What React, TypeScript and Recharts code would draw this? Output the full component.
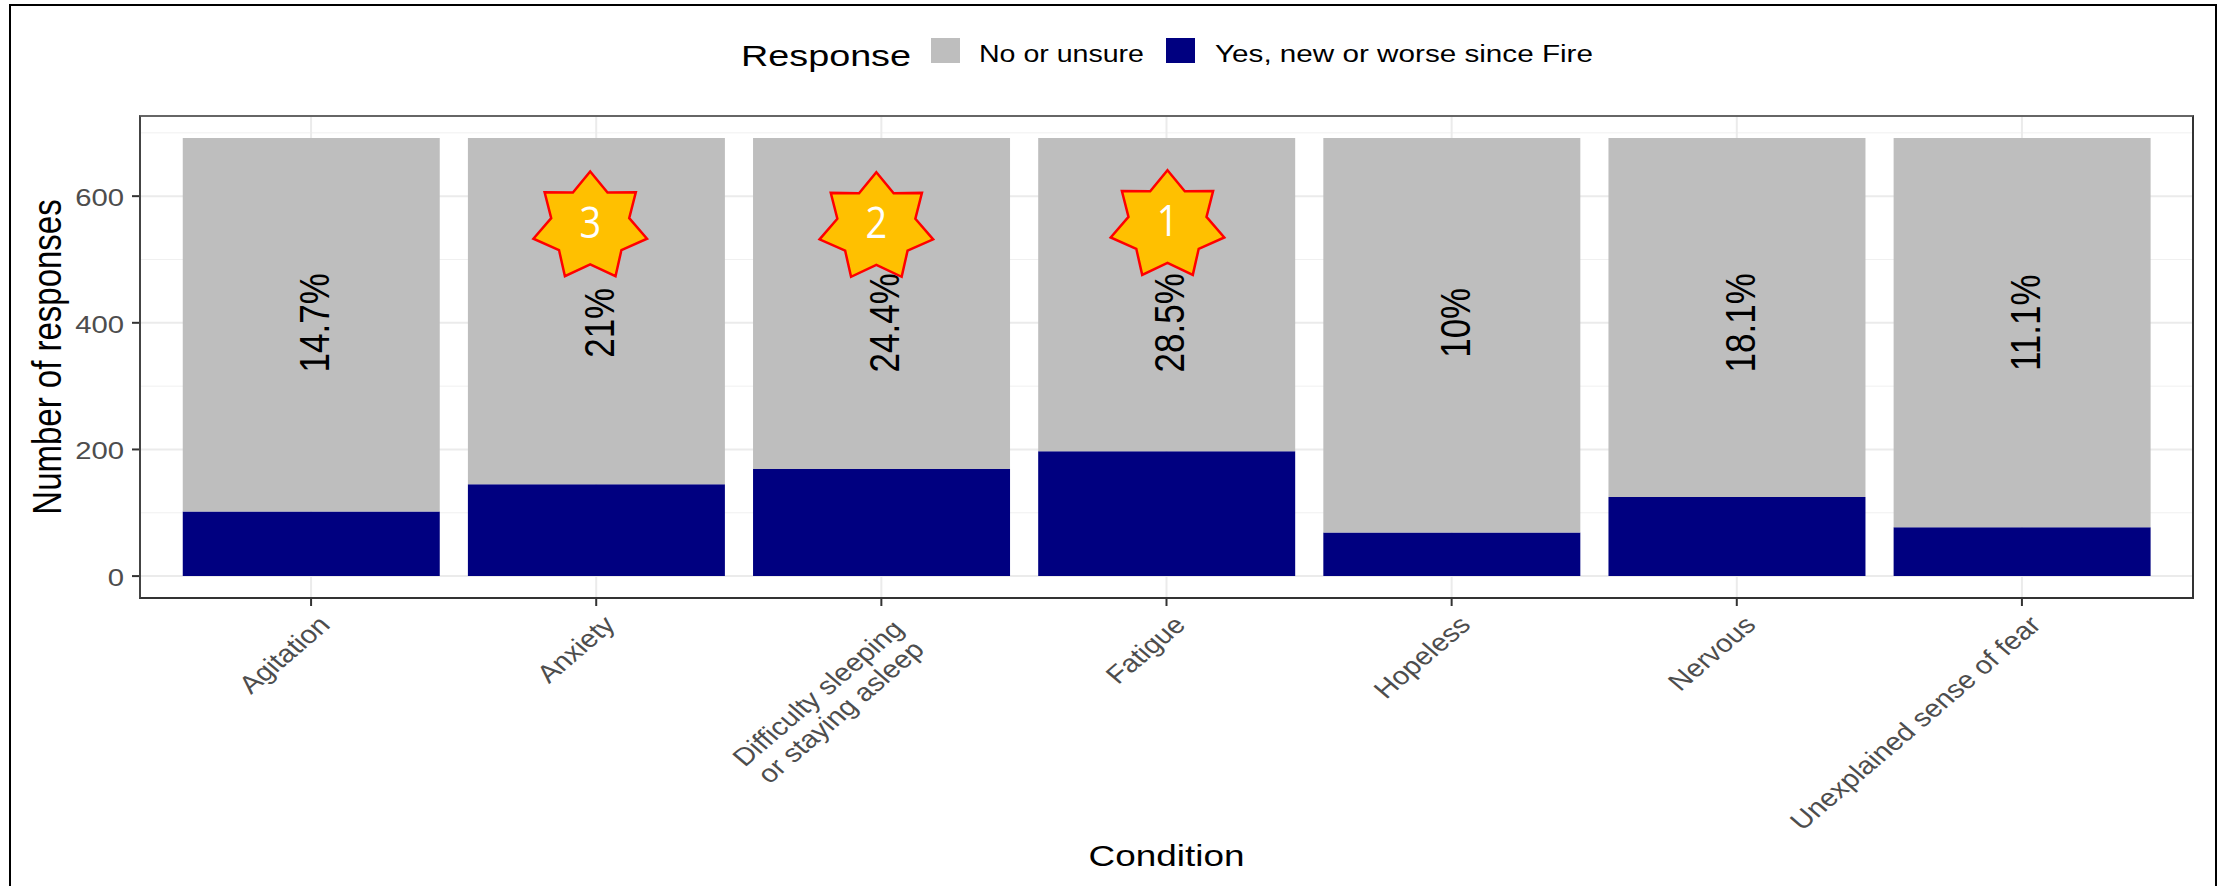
import React from 'react';
import {
  BarChart, Bar, XAxis, YAxis, CartesianGrid, Legend, ReferenceDot,
} from 'recharts';

const conditions = [
  'Agitation',
  'Anxiety',
  'Difficulty sleeping\nor staying asleep',
  'Fatigue',
  'Hopeless',
  'Nervous',
  'Unexplained sense of fear',
];
const yesCounts = [102, 145, 169, 197, 69, 125, 77];
const noCounts = [590, 547, 523, 495, 623, 567, 615];
const percentLabels = ['14.7%', '21%', '24.4%', '28.5%', '10%', '18.1%', '11.1%'];
const majorTicks = [0, 200, 400, 600];
const minorTicks = [100, 300, 500, 700];
const percentLabelY = 400;

// top three conditions, marked with a numbered star
const rankedConditions = ['Anxiety', 'Difficulty sleeping\nor staying asleep', 'Fatigue'];
const rankNumbers = ['3', '2', '1'];
const rankY = [552, 551, 554];
const rankShift = [-6, -5, 1];

const data = conditions.map((condition, i) => ({
  condition,
  yes: yesCounts[i],
  no: noCounts[i],
}));

const FONT = '"Liberation Sans", Arial, sans-serif';
const STRETCH = 1.22;
const YES_NAME = 'Yes, new or worse since Fire';
const NO_NAME = 'No or unsure';

function XTick({ x, y, payload }: any) {
  const lines = String(payload.value).split('\n');
  const multi = lines.length > 1;
  return (
    <g transform={`translate(${x + 13} ${y + 12}) scale(1.17 1) rotate(-45)`}>
      {lines.map((line, i) => (
        <text
          key={line}
          x={multi ? -1 - i * 2 : 0}
          y={i * 27 + (multi ? 14 : 9)}
          textAnchor="end"
          fontFamily={FONT}
          fontSize={25}
          fill="#4D4D4D"
        >
          {line}
        </text>
      ))}
    </g>
  );
}

function YTick({ x, y, payload }: any) {
  return (
    <text
      transform={`translate(${x - 6} ${y + 10}) scale(${STRETCH} 1)`}
      textAnchor="end"
      fontFamily={FONT}
      fontSize={24}
      fill="#4D4D4D"
    >
      {payload.value}
    </text>
  );
}

function XTitle({ viewBox }: any) {
  const cx = viewBox.x + viewBox.width / 2;
  return (
    <text
      transform={`translate(${cx} 866) scale(1.23 1)`}
      textAnchor="middle"
      fontFamily={FONT}
      fontSize={30}
      fill="#000"
    >
      Condition
    </text>
  );
}

function YTitle({ viewBox }: any) {
  const cy = viewBox.y + viewBox.height / 2;
  return (
    <text
      transform={`translate(61 ${cy}) scale(1.26 1) rotate(-90)`}
      textAnchor="middle"
      fontFamily={FONT}
      fontSize={33}
      fill="#000"
    >
      Number of responses
    </text>
  );
}

function PercentLabel({ cx, cy, text }: any) {
  return (
    <text
      transform={`translate(${cx + 2.5} ${cy}) scale(1.24 1) rotate(-90)`}
      textAnchor="middle"
      dominantBaseline="central"
      fontFamily={FONT}
      fontSize={35}
      fill="#000000"
    >
      {text}
    </text>
  );
}

// seven pointed badge, slightly wider than tall
function RankStar({ cx, cy, text, shift }: any) {
  const pts: string[] = [];
  for (let i = 0; i < 14; i++) {
    const r = i % 2 === 0 ? 55 : 37.7;
    const a = (i * Math.PI) / 7;
    pts.push(`${(r * 1.06 * Math.sin(a)).toFixed(1)},${(-r * Math.cos(a)).toFixed(1)}`);
  }
  return (
    <g transform={`translate(${cx + shift} ${cy})`}>
      <polygon points={pts.join(' ')} fill="#FFC000" stroke="#FF0000" strokeWidth={2.5} />
      <text
        transform="translate(0 11) scale(0.88 1)"
        textAnchor="middle"
        fontFamily='"Open Sans", sans-serif'
        fontWeight={400}
        fontSize={43}
        fill="#FFFFFF"
      >
        {text}
      </text>
    </g>
  );
}

function ResponseLegend({ payload }: any) {
  const items = [...(payload ?? [])].sort((a, b) => String(a.value).localeCompare(String(b.value)));
  const swatchX = [201, 436];
  const labelX = [249, 485];
  const labelW = [165, 378];
  return (
    <svg width={900} height={60} style={{ display: 'block' }}>
      <text x={11} y={41} fontFamily={FONT} fontSize={30} fill="#000" textLength={170} lengthAdjust="spacingAndGlyphs">
        Response
      </text>
      {items.map((item: any, i: number) => (
        <g key={item.value}>
          <rect x={swatchX[i]} y={13} width={29} height={25} fill={item.color} />
          <text
            x={labelX[i]}
            y={37}
            fontFamily={FONT}
            fontSize={23}
            fill="#000"
            textLength={labelW[i]}
            lengthAdjust="spacingAndGlyphs"
          >
            {item.value}
          </text>
        </g>
      ))}
    </svg>
  );
}

export default function App() {
  return (
    <div style={{ position: 'absolute', left: 0, top: 0, width: 2218, height: 886, background: '#fff', overflow: 'hidden' }}>
      <div
        style={{
          position: 'absolute',
          left: 9,
          top: 4,
          width: 2204,
          height: 900,
          borderLeft: '2px solid #000',
          borderTop: '2px solid #000',
          borderRight: '2px solid #000',
        }}
      />
      <div style={{ position: 'absolute', left: 0, top: 0 }}>
        <BarChart
          width={2218}
          height={886}
          data={data}
          barCategoryGap="5%"
          margin={{ top: 116, right: 25, bottom: 88, left: 40 }}
        >
          <CartesianGrid stroke="#F0F0F0" strokeWidth={1} vertical={false} horizontalValues={minorTicks} />
          <CartesianGrid stroke="#EBEBEB" strokeWidth={2} horizontalValues={majorTicks} />
          <XAxis
            dataKey="condition"
            interval={0}
            height={200}
            padding={{ left: 28.5, right: 28.5 }}
            tick={<XTick />}
            tickSize={8}
            tickLine={{ stroke: '#333333', strokeWidth: 2 }}
            axisLine={false}
            label={<XTitle />}
          />
          <YAxis
            width={100}
            domain={[-34.6, 726.6]}
            ticks={majorTicks}
            allowDataOverflow
            tick={<YTick />}
            tickSize={8}
            tickLine={{ stroke: '#333333', strokeWidth: 2 }}
            axisLine={false}
            label={<YTitle />}
          />
          <Legend
            verticalAlign="middle"
            content={<ResponseLegend />}
            wrapperStyle={{ left: 730, top: 25, width: 900, height: 60, bottom: 'auto', right: 'auto' }}
          />
          <Bar dataKey="yes" name={YES_NAME} stackId="response" fill="#000080" isAnimationActive={false} />
          <Bar dataKey="no" name={NO_NAME} stackId="response" fill="#BEBEBE" isAnimationActive={false} />
          {conditions.map((condition, i) => (
            <ReferenceDot
              key={condition}
              x={condition}
              y={percentLabelY}
              ifOverflow="visible"
              shape={(p: any) => <PercentLabel {...p} text={percentLabels[i]} />}
            />
          ))}
          {rankedConditions.map((condition, i) => (
            <ReferenceDot
              key={condition}
              x={condition}
              y={rankY[i]}
              ifOverflow="visible"
              shape={(p: any) => <RankStar {...p} text={rankNumbers[i]} shift={rankShift[i]} />}
            />
          ))}
        </BarChart>
      </div>
      {/* panel border sits over the plot area */}
      <div
        style={{
          position: 'absolute',
          left: 139,
          top: 115,
          width: 2055,
          height: 484,
          boxSizing: 'border-box',
          borderTop: '2px solid #666666',
          borderLeft: '2px solid #444444',
          borderRight: '2px solid #333333',
          borderBottom: '2px solid #333333',
          pointerEvents: 'none',
        }}
      />
    </div>
  );
}
